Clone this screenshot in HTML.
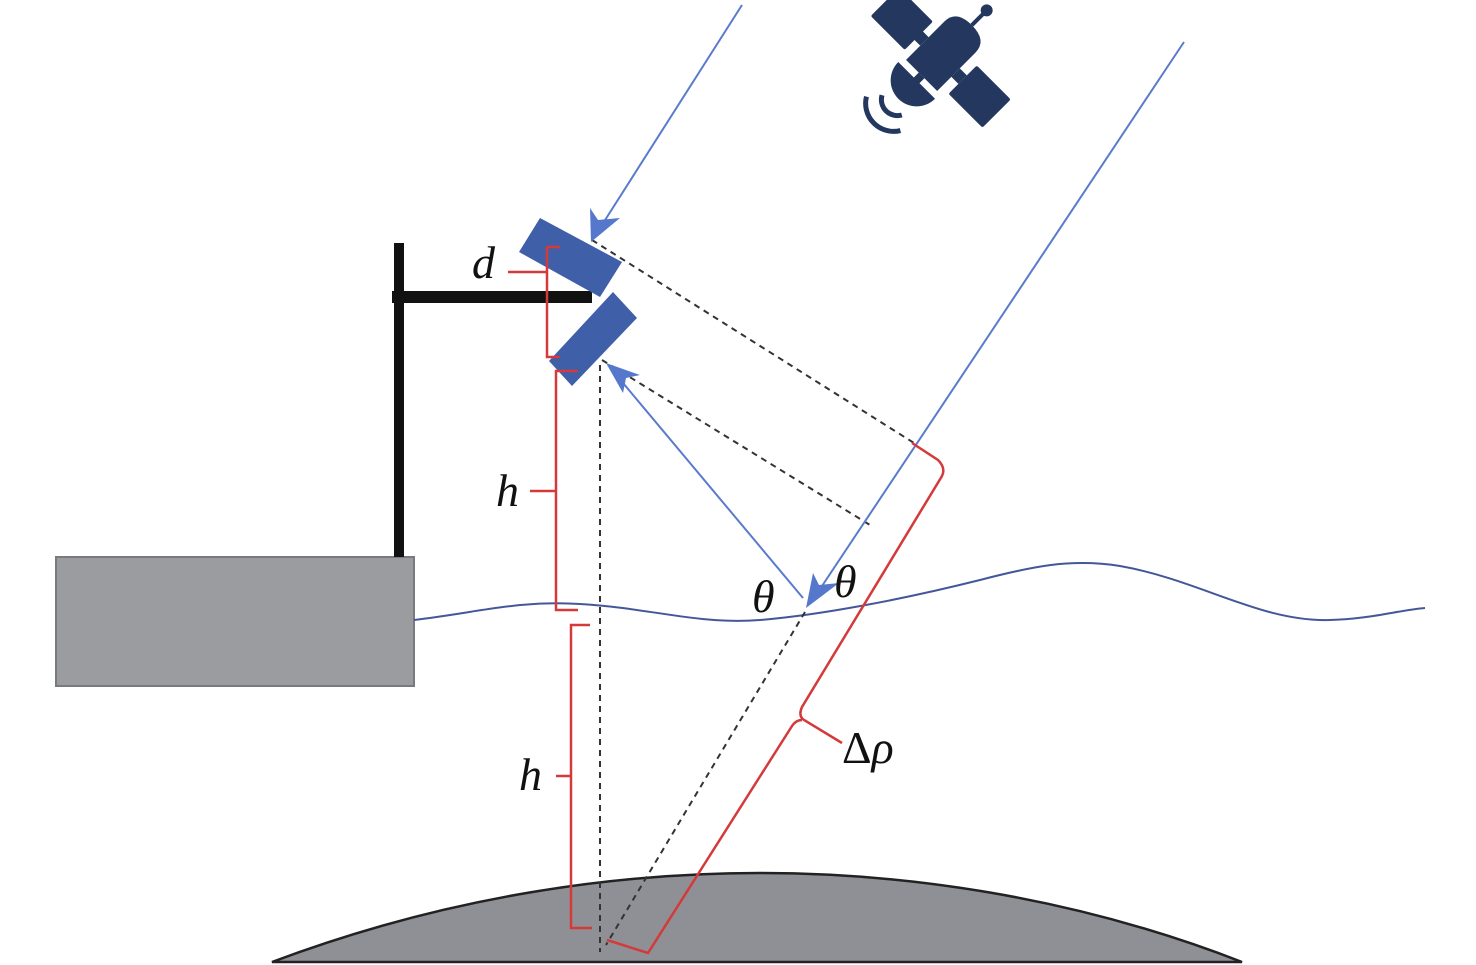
<!DOCTYPE html>
<html><head><meta charset="utf-8"><style>
html,body{margin:0;padding:0;background:#fff;}
svg{display:block}
text{font-family:"Liberation Serif",serif;font-style:italic;font-size:46px;fill:#111}
</style></head><body>
<svg width="1476" height="965" viewBox="0 0 1476 965" xmlns="http://www.w3.org/2000/svg">
<!-- earth -->
<path d="M272,962 C450,895 620,873 760,873 C900,873 1070,895 1242,962 Z" fill="#8f9095" stroke="#222" stroke-width="2.5"/>
<!-- box -->
<rect x="56" y="557" width="358" height="129" fill="#9b9ca0" stroke="#7a7a7e" stroke-width="2"/>
<!-- pole -->
<rect x="394" y="243" width="10" height="314" fill="#111"/>
<rect x="392" y="291" width="200" height="12" fill="#111"/>
<!-- water -->
<path d="M414,620 C480,612 520,600 580,604 C650,608 700,625 760,620 C820,615 900,600 980,580 C1030,567 1070,558 1120,566 C1200,580 1260,622 1330,620 C1370,619 1400,610 1425,608" fill="none" stroke="#44579a" stroke-width="2"/>
<!-- dashed lines -->
<g stroke="#333" stroke-width="2" stroke-dasharray="6,5" fill="none">
<line x1="592" y1="240" x2="914" y2="443"/>
<line x1="602" y1="360" x2="870" y2="525"/>
<line x1="600" y1="365" x2="600" y2="952"/>
<line x1="805" y1="612" x2="606" y2="945"/>
</g>
<!-- blue rays -->
<g stroke="#5a7acc" stroke-width="2" fill="none">
<line x1="742" y1="5" x2="600" y2="228"/>
<line x1="1184" y1="42" x2="816" y2="595"/>
<line x1="803" y1="598" x2="618" y2="377"/>
</g>
<g fill="#5578cc">
<polygon points="591,242 590,208 598,220 620,218"/>
<polygon points="806,608 813,573 819,585 839,583"/>
<polygon points="606,363 640,375 626,378 623,393"/>
</g>
<!-- antennas -->
<g fill="#3f5fa8">
<polygon points="540,218 622,262 600,297 519,252"/>
<polygon points="613,292 637,318 572,386 549,361"/>
</g>
<!-- red brackets -->
<g stroke="#d43a3a" stroke-width="2.5" fill="none">
<path d="M560,247 H547 V357 H560"/>
<line x1="508" y1="272" x2="547" y2="272"/>
<path d="M578,371 H556 V610 H578"/>
<line x1="530" y1="491" x2="556" y2="491"/>
<path d="M590,625 H571 V928 H592"/>
<line x1="556" y1="776" x2="571" y2="776"/>
<path d="M912,443 L938,460 Q946,468 942,476 L802,707 Q798,716 804,720 L842,743 M802,720 Q796,720 792,726 L648,953 L607,940"/>
</g>
<!-- satellite -->
<g fill="#24375f" transform="translate(940,57) rotate(45)">
<rect x="-78" y="-20" width="48" height="40" rx="2"/>
<rect x="-32" y="-6" width="10" height="12"/>
<path d="M-22,-28 Q-22,-45 0,-45 Q22,-45 22,-28 L22,26 L-22,26 Z"/>
<rect x="22" y="-6" width="10" height="12"/>
<rect x="32" y="-20" width="48" height="40" rx="2"/>
<line x1="0" y1="-45" x2="0" y2="-62" stroke="#24375f" stroke-width="4"/>
<circle cx="0" cy="-66" r="6"/>
<rect x="-4" y="26" width="8" height="8"/>
<path d="M-26,33 L26,33 A26,26 0 0 1 -26,33 Z"/>
<path d="M-14,64 A16,16 0 0 0 14,64" fill="none" stroke="#24375f" stroke-width="5" transform="translate(0,4)"/>
<path d="M-24,76 A28,28 0 0 0 24,76" fill="none" stroke="#24375f" stroke-width="5" transform="translate(0,4)"/>
</g>
<!-- labels -->
<text x="472" y="278">d</text>
<text x="496" y="506">h</text>
<text x="519" y="790">h</text>
<text x="752" y="612">θ</text>
<text x="834" y="597">θ</text>
<text x="842" y="763" style="font-style:normal">Δ<tspan style="font-style:italic">ρ</tspan></text>
</svg>
</body></html>
